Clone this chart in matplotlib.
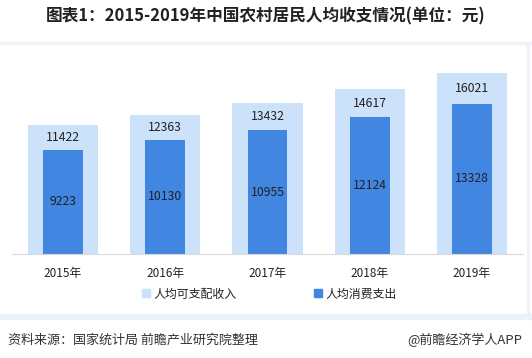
import numpy as np
import matplotlib.pyplot as plt
from matplotlib.patches import Patch

plt.rcParams['font.family'] = ['Noto Sans CJK SC', 'DejaVu Sans']

years = ['2015年', '2016年', '2017年', '2018年', '2019年']
income = [11422, 12363, 13432, 14617, 16021]
spending = [9223, 10130, 10955, 12124, 13328]

light = '#cce1fa'
dark = '#4186e0'

fig = plt.figure(figsize=(5.32, 3.58), dpi=100)
ax = fig.add_axes([12 / 532, 1 - 254 / 358, 511 / 532, 203 / 358])

x = np.arange(len(years))
ax.bar(x, income, width=0.685, color=light, zorder=1)
ax.bar(x, spending, width=0.39, color=dark, zorder=2)

for i in range(len(years)):
    ax.text(x[i], (income[i] + spending[i]) / 2, str(income[i]), ha='center', va='center',
            fontsize=8.8, color='#222222', zorder=3)
    ax.text(x[i], spending[i] / 2, str(spending[i]), ha='center', va='center',
            fontsize=8.8, color='#222222', zorder=3)

ax.set_xlim(-0.5, 4.5)
ax.set_ylim(0, 18000)
ax.set_yticks([])
ax.set_xticks(x)
ax.set_xticklabels(years, fontsize=8.5, color='#222222')
ax.tick_params(axis='x', length=0, pad=9)
for s in ['top', 'right', 'left']:
    ax.spines[s].set_visible(False)
ax.spines['bottom'].set_color('#d9d9d9')

handles = [Patch(color=light, label='人均可支配收入'), Patch(color=dark, label='人均消费支出')]
fig.legend(handles=handles, loc='center', bbox_to_anchor=(0.507, 1 - 294 / 358), ncol=2,
           frameon=False, fontsize=8.6, handlelength=0.65, handleheight=0.65,
           handletextpad=0.3, columnspacing=6.5, labelcolor='#222222')

fig.text(0.5, 1 - 16 / 358, '图表1：2015-2019年中国农村居民人均收支情况(单位：元)',
         ha='center', va='center', fontsize=12, fontweight='bold', color='#222222')

# light separator bands
fig.add_artist(plt.Rectangle((0, 1 - 44 / 358), 1, 2 / 358, color='#edf2f9', transform=fig.transFigure))
fig.add_artist(plt.Rectangle((0, 1 - 319 / 358), 1, 5 / 358, color='#edf2f9', transform=fig.transFigure))
fig.add_artist(plt.Rectangle((527 / 532, 1 - 319 / 358), 2 / 532, 275 / 358, color='#edf2f9',
                             transform=fig.transFigure))

fig.text(8 / 532, 1 - 340 / 358, '资料来源：国家统计局 前瞻产业研究院整理', ha='left', va='center',
         fontsize=9.4, color='#333333')
fig.text(522 / 532, 1 - 340 / 358, '@前瞻经济学人APP', ha='right', va='center',
         fontsize=9.4, color='#333333')

fig.savefig('out.png', dpi=100)
